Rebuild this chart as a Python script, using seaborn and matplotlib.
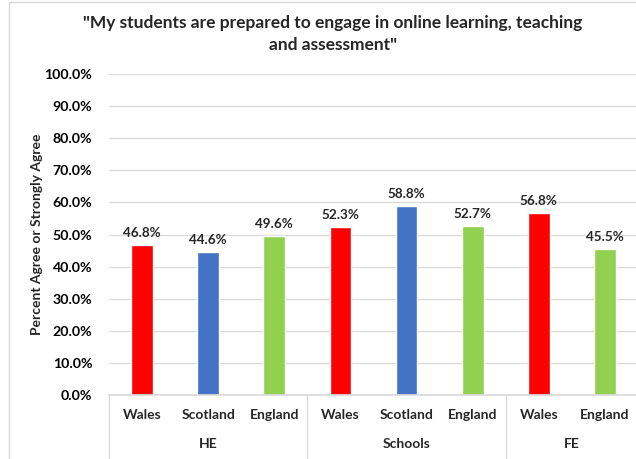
import matplotlib
matplotlib.use("Agg")
import matplotlib.pyplot as plt
import seaborn as sns
import pandas as pd
from matplotlib.patches import Rectangle
from matplotlib.lines import Line2D
import matplotlib.transforms as mtrans

sectors = ["HE", "HE", "HE", "Schools", "Schools", "Schools", "FE", "FE"]
countries = ["Wales", "Scotland", "England", "Wales", "Scotland", "England", "Wales", "England"]
values = [46.8, 44.6, 49.6, 52.3, 58.8, 52.7, 56.8, 45.5]
group_names = ["HE", "Schools", "FE"]
country_colors = {"Wales": "#FF0000", "Scotland": "#4472C4", "England": "#92D050"}

sns.set_theme(style="white")
plt.rcParams['font.family'] = ['Lato', 'DejaVu Sans']

df = pd.DataFrame({"key": [f"{s}-{c}" for s, c in zip(sectors, countries)],
                   "country": countries, "sector": sectors, "value": values})

fig = plt.figure(figsize=(6.36, 4.59), dpi=100)
W, H = 636, 459
ax = fig.add_axes([109 / W, 64 / H, 529 / W, 321 / H])

palette = [country_colors[c] for c in countries]
sns.barplot(data=df, x="key", y="value", hue="key", palette=palette, legend=False,
            width=0.33, ax=ax, saturation=1)

ax.set_ylim(0, 100)
ax.set_xlim(-0.5, len(values) - 0.5)
ax.set_yticks(range(0, 101, 10))
ax.set_yticklabels([f"{v:.1f}%" for v in range(0, 101, 10)], fontsize=10.2,
                   fontweight="bold", color="#000000")
ax.tick_params(axis="y", length=0, pad=12)
ax.grid(axis="y", color="#D9D9D9", linewidth=0.9)
ax.set_axisbelow(True)
for s in ["top", "right", "left"]:
    ax.spines[s].set_visible(False)
ax.spines["bottom"].set_color("#D9D9D9")

ax.set_xticks(range(len(values)))
ax.set_xticklabels(countries, fontsize=10, fontweight="bold")
ax.tick_params(axis="x", length=0, pad=10)
ax.set_xlabel("")
ax.set_ylabel("Percent Agree or Strongly Agree", fontsize=10, fontweight="bold", labelpad=1)

for i, v in enumerate(values):
    ax.text(i, v + 1.8, f"{v:.1f}%", ha="center", va="bottom", fontsize=9.7, fontweight="bold")

# multi-level category axis
trans = mtrans.blended_transform_factory(ax.transData, ax.transAxes)
bounds = [-0.5, 2.5, 5.5, 7.5]
for b in bounds:
    ax.add_line(Line2D([b, b], [0, -0.2], transform=trans, color="#D9D9D9",
                       linewidth=0.9, clip_on=False))
for g, (a, b) in zip(group_names, zip(bounds[:-1], bounds[1:])):
    ax.text((a + b) / 2, -0.153, g, transform=trans, ha="center", va="center",
            fontsize=10, fontweight="bold")

fig.text(333 / W, 1 - 34 / H,
         "\"My students are prepared to engage in online learning, teaching\nand assessment\"",
         ha="center", va="center", fontsize=12.5, fontweight="bold", linespacing=1.4)

fig.patches.append(Rectangle((9 / W, -0.05), 1.1, 1 - 2 / H + 0.05, transform=fig.transFigure,
                             fill=False, edgecolor="#D9D9D9", linewidth=1))

fig.savefig("out.png", dpi=100)
